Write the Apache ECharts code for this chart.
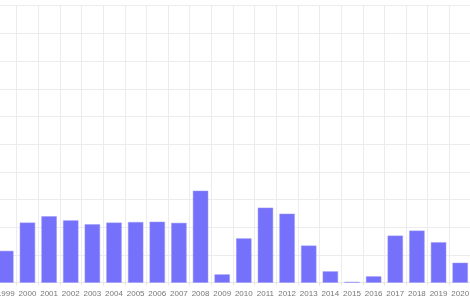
<!DOCTYPE html>
<html>
<head>
<meta charset="utf-8">
<script src="https://cdn.jsdelivr.net/npm/echarts@6/dist/echarts.min.js"></script>
<style>
html,body{margin:0;padding:0;width:470px;height:300px;overflow:hidden;background:#fff;}
#c{position:absolute;left:-20px;top:0;width:512px;height:300px;}
</style>
</head>
<body>
<div id="c"></div>
<script>
const years = ['1999','2000','2001','2002','2003','2004','2005','2006','2007','2008','2009','2010','2011','2012','2013','2014','2015','2016','2017','2018','2019','2020'];
const values = [11.5,21.7,24.0,22.5,21.1,21.7,21.9,22.0,21.6,33.2,3.0,16.0,27.1,24.9,13.4,4.1,0.3,2.3,17.0,18.8,14.6,7.2];
const yMax = 100;
const yInterval = 10;

const chart = echarts.init(document.getElementById('c'), null, {renderer:'canvas'});
chart.setOption({
  animation:false,
  grid:{left:15, width:476, top:5.7, bottom:17.3, containLabel:false},
  xAxis:{
    type:'category',
    data:years,
    axisLine:{lineStyle:{color:'#e6e6e6'}},
    axisTick:{show:true, length:3, lineStyle:{color:'#eee8d8'}},
    axisLabel:{color:'#777', fontSize:8, fontFamily:'Liberation Sans', margin:7, interval:0},
    splitLine:{show:true, lineStyle:{color:'#ececec'}}
  },
  yAxis:{
    type:'value', min:0, max:yMax, interval:yInterval,
    axisLabel:{show:false},
    axisLine:{show:false}, axisTick:{show:false},
    splitLine:{lineStyle:{color:'#ececec'}}
  },
  series:[{
    type:'bar',
    data:values,
    barWidth:'71%',
    itemStyle:{color:'#7571fa', borderColor:'#9a97fb', borderWidth:0.5}
  }]
});
</script>
</body>
</html>
